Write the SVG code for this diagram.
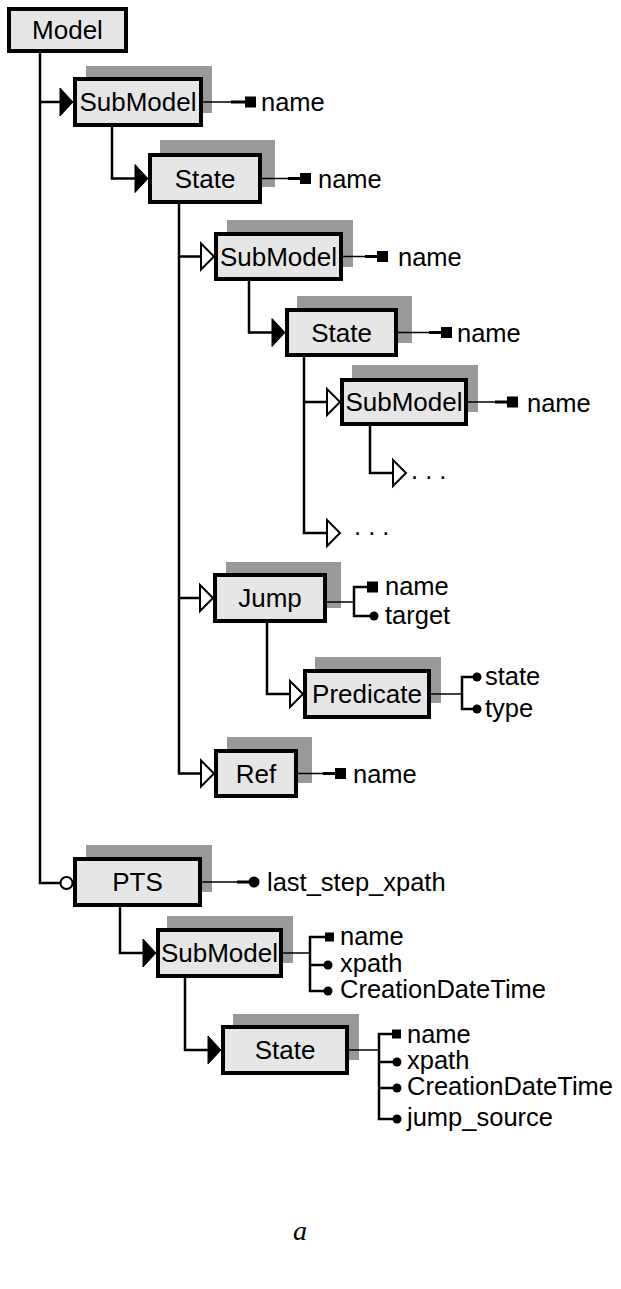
<svg xmlns="http://www.w3.org/2000/svg" width="621" height="1289" viewBox="0 0 621 1289">
<style>
.box{fill:#e6e6e6;stroke:#000;stroke-width:4}
.sh{fill:#999}
.lbl{font-family:"Liberation Sans",Arial,sans-serif;font-size:26px;fill:#000;text-anchor:middle}
.att{font-family:"Liberation Sans",Arial,sans-serif;font-size:25.5px;fill:#000}
.ln{fill:none;stroke:#000;stroke-width:2.5}
.thin{fill:none;stroke:#000;stroke-width:1.5}
.thick{fill:none;stroke:#000;stroke-width:3}
.fa{fill:#000;stroke:#000;stroke-width:1}
.oa{fill:#fff;stroke:#000;stroke-width:2}
.mk{fill:#000}
</style>
<rect width="621" height="1289" fill="#fff"/>

<g id="connectors">
<path class="ln" d="M40 53 V883 H60"/>
<circle class="oa" cx="66.5" cy="883" r="6"/>
<path class="ln" d="M40 102 H62"/>
<polygon class="fa" points="60,88 73,102 60,116"/>
<path class="ln" d="M112 127 V178.5 H136"/>
<polygon class="fa" points="135,164.5 148,178.5 135,192.5"/>
<path class="ln" d="M179 204 V773.5 H202 M179 256.5 H202 M179 598 H201"/>
<polygon class="oa" points="201,243.5 214,256.5 201,269.5"/>
<polygon class="oa" points="200,585 213,598 200,611"/>
<polygon class="oa" points="201,760.5 214,773.5 201,786.5"/>
<path class="ln" d="M249 281 V332.5 H273"/>
<polygon class="fa" points="272,318.5 285,332.5 272,346.5"/>
<path class="ln" d="M304 357 V533 H327 M304 402 H327"/>
<polygon class="oa" points="327,389 340,402 327,415"/>
<polygon class="oa" points="327,520 340,533 327,546"/>
<path class="ln" d="M370 426 V473 H393"/>
<polygon class="oa" points="393,460 406,473 393,486"/>
<path class="ln" d="M267 623 V694 H290"/>
<polygon class="oa" points="290,681 303,694 290,707"/>
<path class="ln" d="M120 907 V953 H144"/>
<polygon class="fa" points="143,939 156,953 143,967"/>
<path class="ln" d="M185 978 V1050 H209"/>
<polygon class="fa" points="208,1036 221,1050 208,1064"/>
</g>

<g id="Model">
<rect class="box" x="9" y="9" width="117" height="42"/>
<text class="lbl" x="67.5" y="39">Model</text>
</g>

<g id="SubModel1">
<rect class="sh" x="86" y="66" width="126" height="47"/>
<rect class="box" x="75" y="79" width="126" height="46"/>
<text class="lbl" x="138" y="111">SubModel</text>
<path class="thin" d="M201 102 H231"/><path class="thick" d="M231 102 H245"/>
<rect class="mk" x="245" y="96.5" width="11" height="11"/>
<text class="att" x="261" y="111">name</text>
</g>

<g id="State1">
<rect class="sh" x="160" y="140" width="115" height="47"/>
<rect class="box" x="150" y="155" width="110" height="47"/>
<text class="lbl" x="205" y="187.5">State</text>
<path class="thin" d="M260 178.5 H288"/><path class="thick" d="M288 178.5 H300"/>
<rect class="mk" x="300" y="173" width="11" height="11"/>
<text class="att" x="318" y="188">name</text>
</g>

<g id="SubModel2">
<rect class="sh" x="227" y="220" width="126" height="47"/>
<rect class="box" x="216" y="234" width="125" height="45"/>
<text class="lbl" x="278.5" y="265.5">SubModel</text>
<path class="thin" d="M341 256.5 H365"/><path class="thick" d="M365 256.5 H377"/>
<rect class="mk" x="377" y="251" width="11" height="11"/>
<text class="att" x="398" y="266">name</text>
</g>

<g id="State2">
<rect class="sh" x="297" y="296" width="115" height="47"/>
<rect class="box" x="287" y="310" width="109" height="45"/>
<text class="lbl" x="341.5" y="341.5">State</text>
<path class="thin" d="M396 332.5 H429"/><path class="thick" d="M429 332.5 H441"/>
<rect class="mk" x="441" y="327" width="11" height="11"/>
<text class="att" x="457" y="342">name</text>
</g>

<g id="SubModel3">
<rect class="sh" x="352" y="365" width="126" height="47"/>
<rect class="box" x="342" y="380" width="124" height="44"/>
<text class="lbl" x="404" y="411">SubModel</text>
<path class="thin" d="M466 402 H495"/><path class="thick" d="M495 402 H507"/>
<rect class="mk" x="507" y="396.5" width="11" height="11"/>
<text class="att" x="527" y="411.5">name</text>
</g>

<g id="dots1"><text class="att" x="411" y="479">. . .</text></g>
<g id="dots2"><text class="att" x="354" y="535">. . .</text></g>

<g id="Jump">
<rect class="sh" x="226" y="562" width="115" height="46"/>
<rect class="box" x="215" y="575" width="110" height="46"/>
<text class="lbl" x="270" y="607">Jump</text>
<path class="thin" d="M325 602 H354"/>
<path class="ln" d="M367 587 H354 V616 H372"/>
<rect class="mk" x="367" y="581.5" width="11" height="11"/>
<circle class="mk" cx="374" cy="616" r="4.5"/>
<text class="att" x="385" y="595">name</text>
<text class="att" x="385" y="624">target</text>
</g>

<g id="Predicate">
<rect class="sh" x="315" y="657" width="126" height="46"/>
<rect class="box" x="305" y="671" width="124" height="46"/>
<text class="lbl" x="367" y="703">Predicate</text>
<path class="thin" d="M429 694 H462"/>
<path class="ln" d="M476 677 H462 V709 H476"/>
<circle class="mk" cx="477" cy="677" r="4.5"/>
<circle class="mk" cx="477" cy="709" r="4.5"/>
<text class="att" x="485" y="685">state</text>
<text class="att" x="485" y="717">type</text>
</g>

<g id="Ref">
<rect class="sh" x="227" y="737" width="85" height="46"/>
<rect class="box" x="216" y="751" width="80" height="45"/>
<text class="lbl" x="256" y="782.5">Ref</text>
<path class="thin" d="M296 773.5 H323"/><path class="thick" d="M323 773.5 H335"/>
<rect class="mk" x="335" y="768" width="11" height="11"/>
<text class="att" x="353" y="783">name</text>
</g>

<g id="PTS">
<rect class="sh" x="86" y="845" width="126" height="47"/>
<rect class="box" x="75" y="859" width="125" height="46"/>
<text class="lbl" x="137.5" y="891">PTS</text>
<path class="thin" d="M200 882 H237"/><path class="thick" d="M237 882 H250"/>
<circle class="mk" cx="254" cy="882" r="5.5"/>
<text class="att" x="267" y="891">last_step_xpath</text>
</g>

<g id="SubModel4">
<rect class="sh" x="167" y="916" width="126" height="47"/>
<rect class="box" x="158" y="930" width="123" height="46"/>
<text class="lbl" x="219.5" y="962">SubModel</text>
<path class="thin" d="M281 953 H310"/>
<path class="ln" d="M326 937 H310 V991 H326 M310 965 H326"/>
<rect class="mk" x="325" y="932.5" width="9" height="9"/>
<circle class="mk" cx="328" cy="965" r="4.5"/>
<circle class="mk" cx="328" cy="991" r="4.5"/>
<text class="att" x="340" y="945">name</text>
<text class="att" x="340" y="972">xpath</text>
<text class="att" x="340" y="998">CreationDateTime</text>
</g>

<g id="State4">
<rect class="sh" x="233" y="1014" width="126" height="46"/>
<rect class="box" x="223" y="1027" width="124" height="46"/>
<text class="lbl" x="285" y="1059">State</text>
<path class="thin" d="M347 1050 H379"/>
<path class="ln" d="M393 1034 H379 V1119 H395 M379 1062 H395 M379 1088 H395"/>
<rect class="mk" x="392" y="1029.5" width="9" height="9"/>
<circle class="mk" cx="397" cy="1062" r="4.5"/>
<circle class="mk" cx="397" cy="1088" r="4.5"/>
<circle class="mk" cx="397" cy="1119" r="4.5"/>
<text class="att" x="407" y="1043">name</text>
<text class="att" x="407" y="1069">xpath</text>
<text class="att" x="407" y="1095">CreationDateTime</text>
<text class="att" x="407" y="1126">jump_source</text>
</g>

<text x="300" y="1240" font-family="'Liberation Serif','Times New Roman',serif" font-style="italic" font-size="28" text-anchor="middle">a</text>
</svg>
